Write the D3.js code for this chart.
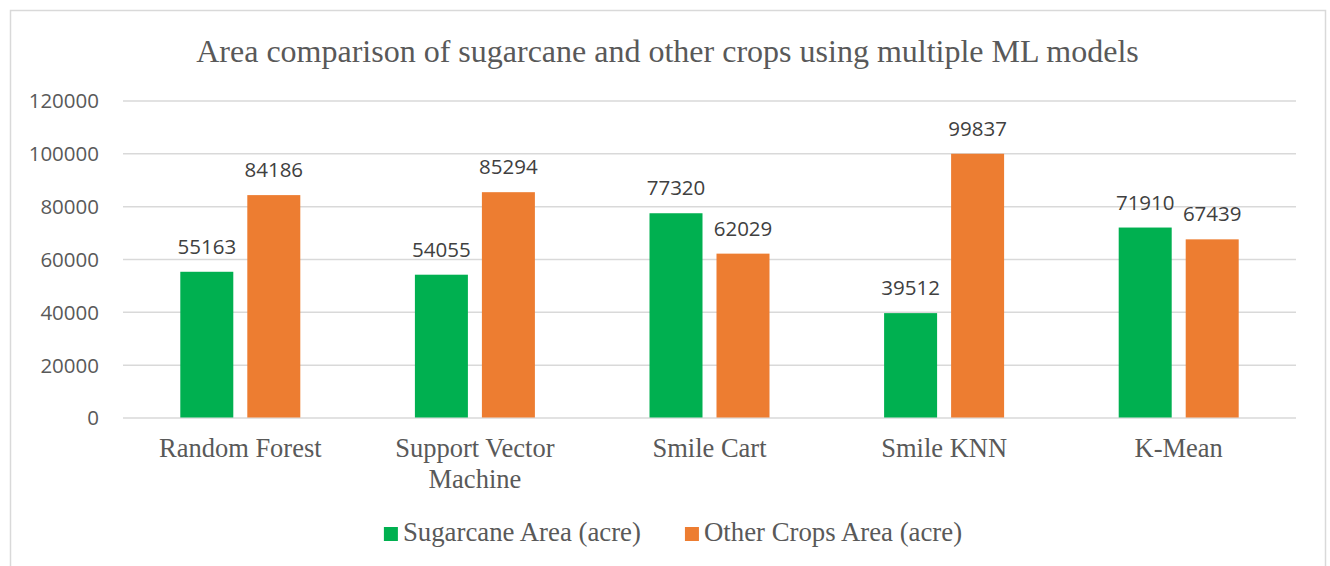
<!DOCTYPE html>
<html>
<head>
<meta charset="utf-8">
<script src="https://cdn.jsdelivr.net/npm/d3@7"></script>
<style>
  html, body { margin: 0; padding: 0; background: #fff; }
  svg { display: block; }
</style>
</head>
<body>
<svg id="chart" width="1330" height="566"></svg>
<script>
const title = "Area comparison of sugarcane and other crops using multiple ML models";
const categories = ["Random Forest", "Support Vector Machine", "Smile Cart", "Smile KNN", "K-Mean"];
const categoryLines = [["Random Forest"], ["Support Vector", "Machine"], ["Smile Cart"], ["Smile KNN"], ["K-Mean"]];
const seriesNames = ["Sugarcane Area (acre)", "Other Crops Area (acre)"];
const sugarcane = [55163, 54055, 77320, 39512, 71910];
const otherCrops = [84186, 85294, 62029, 99837, 67439];
const yTicks = [0, 20000, 40000, 60000, 80000, 100000, 120000];
const colors = ["#00B050", "#ED7D31"];

const svg = d3.select("#chart");
const serif = "'Liberation Serif', 'Times New Roman', serif";
const sans = "'Open Sans', 'Noto Sans', sans-serif";

// chart border
svg.append("rect").attr("x", 10.5).attr("y", 10.5).attr("width", 1315).attr("height", 600)
  .attr("fill", "#fff").attr("stroke", "#d9d9d9").attr("stroke-width", 1.5);

const plot = { left: 123, right: 1296, top: 100.5, bottom: 417.5 };

const y = d3.scaleLinear().domain([0, 120000]).range([plot.bottom, plot.top]);
const x0 = d3.scaleBand().domain(categories).range([plot.left, plot.right])
  .paddingInner(0.4885).paddingOuter(0.24425);
const x1 = d3.scaleBand().domain(seriesNames).range([0, x0.bandwidth()]).paddingInner(0.209);

// title
svg.append("text").attr("x", 667.5).attr("y", 62).attr("text-anchor", "middle")
  .attr("font-family", serif).attr("font-size", 32).attr("fill", "#595959").text(title);

// y axis with gridlines
const yAxis = svg.append("g").attr("transform", `translate(${plot.left},0)`)
  .call(d3.axisLeft(y).tickValues(yTicks).tickFormat(d3.format("d"))
    .tickSize(-(plot.right - plot.left)).tickPadding(24));
yAxis.select(".domain").remove();
yAxis.selectAll(".tick line").attr("stroke", "#d9d9d9").attr("stroke-width", 1.5);
yAxis.selectAll(".tick text").attr("font-family", sans).attr("font-size", 20.5)
  .attr("fill", "#595959").attr("dy", "0.36em");

// bars
const rows = categories.map((c, i) => ({ cat: c, vals: [sugarcane[i], otherCrops[i]] }));
const groups = svg.selectAll("g.cat").data(rows).join("g").attr("class", "cat")
  .attr("transform", d => `translate(${x0(d.cat)},0)`);
groups.selectAll("rect").data(d => d.vals.map((v, j) => ({ v, s: seriesNames[j], j })))
  .join("rect")
  .attr("x", d => x1(d.s)).attr("width", x1.bandwidth())
  .attr("y", d => y(d.v)).attr("height", d => y(0) - y(d.v))
  .attr("fill", d => colors[d.j]);
groups.selectAll("text.val").data(d => d.vals.map((v, j) => ({ v, s: seriesNames[j], j })))
  .join("text").attr("class", "val")
  .attr("x", d => x1(d.s) + x1.bandwidth() / 2).attr("y", d => y(d.v) - 18)
  .attr("text-anchor", "middle").attr("font-family", sans).attr("font-size", 20.5)
  .attr("fill", "#404040").text(d => d.v);

// x axis labels
const xAxis = svg.append("g").attr("transform", `translate(0,${plot.bottom})`)
  .call(d3.axisBottom(x0).tickSize(0).tickPadding(0));
xAxis.select(".domain").remove();
xAxis.selectAll(".tick text").each(function(d, i) {
  const t = d3.select(this);
  t.text(null).attr("y", 0).attr("dy", null)
    .attr("font-family", serif).attr("font-size", 26.5).attr("fill", "#595959");
  categoryLines[i].forEach((line, k) => {
    t.append("tspan").attr("x", 0).attr("y", 39.5 + k * 31).text(line);
  });
});

// legend
const legend = svg.append("g");
const items = legend.selectAll("g").data(seriesNames).join("g");
items.append("rect").attr("width", 14).attr("height", 14).attr("y", -14)
  .attr("fill", (d, i) => colors[i]);
items.append("text").attr("x", 19).attr("font-family", serif).attr("font-size", 26.8)
  .attr("fill", "#595959").text(d => d);
let widths = [];
items.each(function() { widths.push(this.getBBox().width); });
const gap = 44;
const total = widths.reduce((a, b) => a + b, 0) + gap;
let cx = 673 - total / 2;
items.attr("transform", (d, i) => {
  const tx = cx; cx += widths[i] + gap; return `translate(${tx},${541})`;
});
</script>
</body>
</html>
